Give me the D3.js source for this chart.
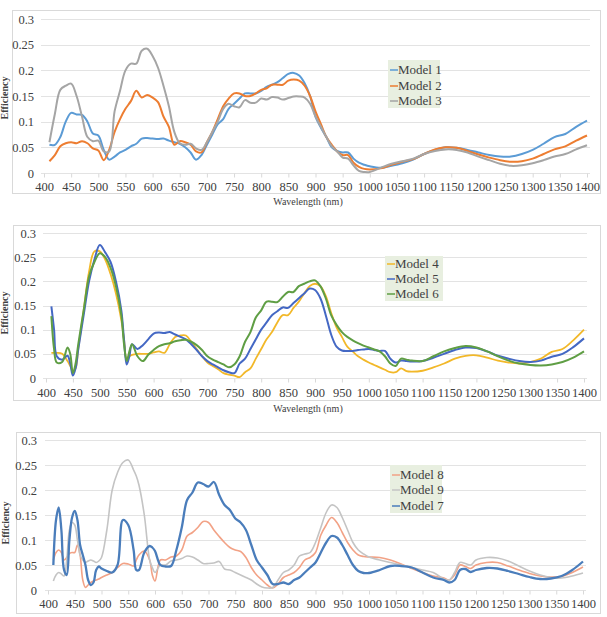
<!DOCTYPE html>
<html><head><meta charset="utf-8">
<script src="https://cdn.jsdelivr.net/npm/d3@7"></script>
<style>
body{margin:0;background:#fff;}
</style></head>
<body><svg id="c" width="607" height="617" font-family="Liberation Serif, DejaVu Serif, serif"></svg>
<script>
// ---------- data ----------
const xTicks = d3.range(400, 1401, 50);
const yTicks = [0, 0.05, 0.1, 0.15, 0.2, 0.25, 0.3];
const yTickLabels = ["0", "0.05", "0.1", "0.15", "0.2", "0.25", "0.3"];

const W1 = d3.range(410, 1001, 10).concat(d3.range(1020, 1401, 20));
const model1 = [
 .055,.055,.07,.1,.117,.114,.113,.1,.077,.073,
 .045,.026,.032,.04,.045,.052,.057,.067,.068,.067,
 .066,.067,.063,.06,.057,.05,.04,.026,.035,.055,
 .075,.095,.105,.125,.135,.145,.155,.155,.155,.16,
 .168,.172,.177,.185,.193,.195,.19,.175,.15,.11,
 .088,.07,.05,.043,.04,.04,.028,.02,.016,.013,
 .01,.014,.019,.026,.037,.045,.05,.049,.045,.04,
 .035,.032,.032,.037,.045,.057,.07,.076,.09,.102];
const model2 = [
 .023,.035,.052,.058,.06,.058,.062,.058,.048,.044,
 .025,.045,.08,.105,.125,.14,.16,.147,.152,.147,
 .138,.11,.09,.055,.062,.06,.055,.042,.04,.06,
 .08,.105,.13,.145,.155,.155,.15,.15,.155,.162,
 .165,.172,.172,.172,.18,.182,.18,.17,.15,.12,
 .095,.07,.055,.042,.035,.035,.02,.012,.008,.007,
 .009,.016,.022,.027,.037,.046,.05,.049,.043,.036,
 .03,.025,.022,.023,.028,.037,.046,.052,.063,.073];
const model3 = [
 .06,.115,.162,.17,.174,.15,.11,.07,.062,.063,
 .042,.042,.12,.16,.2,.213,.213,.238,.242,.228,
 .205,.17,.13,.08,.058,.055,.057,.048,.045,.06,
 .08,.1,.125,.135,.13,.128,.142,.137,.137,.145,
 .143,.148,.147,.143,.146,.149,.149,.147,.135,.11,
 .09,.07,.052,.042,.03,.028,.015,.004,.002,.002,
 .01,.018,.023,.028,.037,.043,.046,.045,.04,.032,
 .025,.018,.014,.015,.019,.025,.032,.037,.046,.054];

const W2 = [410,415,420,430,440,445,450,455,460]
  .concat(d3.range(470, 541, 10), [545,550,555], d3.range(560, 1081, 10), d3.range(1100, 1401, 20));
const model4 = [
 .052,.052,.052,.05,.035,.025,.015,.02,.06,
 .14,.22,.262,.262,.245,.215,.175,.12,
 .08,.04,.045,
 .048,.05,.05,.05,.053,.055,.052,.07,.085,.088,
 .088,.075,.06,.045,.032,.025,.018,.01,.007,.005,
 .002,.012,.02,.04,.06,.08,.095,.115,.13,.13,
 .145,.158,.175,.19,.195,.19,.17,.135,.105,.085,
 .065,.055,.045,.038,.032,.027,.022,.017,.012,.012,
 .02,.014,.013,
 .015,.022,.03,.04,.046,.047,.042,.036,.032,.03,.033,.04,.054,.06,.078,.1];
const model5 = [
 .148,.1,.045,.038,.046,.03,.005,.02,.06,
 .13,.2,.245,.275,.26,.24,.2,.14,
 .08,.028,.045,
 .07,.06,.068,.08,.092,.094,.093,.095,.09,.085,
 .08,.07,.058,.045,.035,.028,.022,.016,.012,.01,
 .03,.04,.06,.08,.1,.115,.13,.138,.146,.145,
 .155,.165,.175,.185,.182,.165,.13,.09,.065,.057,
 .056,.056,.058,.059,.06,.058,.056,.056,.04,.032,
 .036,.035,.034,
 .035,.042,.05,.058,.063,.062,.055,.046,.04,.035,.033,.036,.044,.05,.064,.082];
const model6 = [
 .128,.06,.032,.033,.063,.05,.01,.03,.07,
 .14,.21,.24,.258,.25,.228,.19,.13,
 .07,.035,.055,
 .07,.045,.035,.048,.058,.066,.07,.072,.076,.078,
 .079,.075,.068,.058,.045,.038,.033,.028,.022,.028,
 .045,.075,.095,.125,.14,.158,.158,.157,.168,.178,
 .178,.19,.195,.2,.202,.19,.165,.13,.11,.095,
 .085,.078,.072,.067,.063,.059,.055,.045,.03,.025,
 .04,.038,.036,
 .035,.045,.055,.062,.066,.063,.055,.045,.036,.03,.027,.026,.028,.033,.042,.055];

const W3 = d3.range(410, 501, 5)
  .concat([510,520,530,540,550,560,565,570,580,590,595], d3.range(600, 1001, 10),
          [1020,1040,1060,1080,1100,1120,1140,1150,1160,1170,1180,1190,1200], d3.range(1220, 1401, 20));
const model7 = [
 .05,.14,.165,.12,.04,.03,.1,.145,.158,.14,.09,.07,.05,.02,.01,.015,.04,.047,.043,
 .038,.035,.05,.14,.13,.08,.04,.04,.075,.088,.085,
 .078,.05,.047,.048,.08,.125,.18,.195,.215,.212,
 .207,.216,.19,.17,.16,.143,.135,.12,.09,.06,
 .045,.03,.012,.012,.015,.012,.02,.025,.035,.045,
 .055,.075,.095,.108,.105,.09,.07,.05,.038,.034,.034,
 .04,.048,.048,.045,.035,.025,.02,.015,.02,.04,.042,.036,.04,
 .044,.043,.038,.032,.026,.022,.023,.028,.04,.057];
const model8 = [
 .06,.075,.08,.075,.06,.065,.073,.075,.075,.09,.07,.02,.005,.01,.015,.018,.02,.022,.025,
 .03,.035,.045,.053,.052,.048,.06,.07,.078,.06,.03,
 .018,.06,.06,.066,.068,.08,.108,.115,.125,.137,
 .135,.12,.107,.095,.085,.08,.077,.065,.045,.03,
 .02,.01,.004,.012,.025,.03,.035,.045,.06,.065,
 .075,.11,.13,.145,.135,.115,.095,.08,.07,.067,.066,
 .065,.06,.052,.043,.035,.028,.024,.02,.03,.05,.047,.043,.05,
 .055,.055,.048,.04,.033,.028,.026,.027,.035,.046];
const model9 = [
 .018,.03,.035,.032,.028,.06,.12,.135,.13,.1,.07,.06,.055,.058,.06,.058,.055,.058,.065,
 .12,.2,.235,.255,.26,.24,.228,.21,.15,.06,.045,
 .035,.05,.05,.058,.06,.063,.068,.066,.06,.053,
 .053,.054,.057,.042,.04,.035,.03,.025,.02,.012,
 .006,.004,.005,.02,.035,.04,.05,.068,.072,.075,
 .095,.125,.155,.17,.165,.145,.12,.095,.08,.072,.066,
 .06,.055,.05,.045,.04,.035,.022,.02,.035,.055,.053,.05,.06,
 .065,.064,.058,.048,.038,.03,.025,.024,.028,.034];

const names1 = ["Model 1", "Model 2", "Model 3"];
const names2 = ["Model 4", "Model 5", "Model 6"];
const names3 = ["Model 8", "Model 9", "Model 7"];

// ---------- layout / style ----------
const FONT = "Liberation Serif, DejaVu Serif, serif";
const charts = [
 {box:[12,10,600,193], x0:44, x1:587, yT:19, yB:173, yLabX:34, xLabBase:190, titleY:205, effX:8, effY:98,
  W:W1, series:[model1, model2, model3], names:names1, colors:["#5b9bd5","#ed7d31","#a5a5a5"], widths:[2,2,2],
  legend:{x:388,y:60,w:52,h:48,rows:[70,86,101]}},
 {box:[13,225,600,400], x0:46, x1:584, yT:233, yB:378, yLabX:36, xLabBase:396, titleY:412, effX:8, effY:313,
  W:W2, series:[model4, model5, model6], names:names2, colors:["#f2b829","#4468c4","#5f9e44"], widths:[1.8,2,2],
  legend:{x:385,y:256,w:58,h:45,rows:[264,279,294]}},
 {box:[16,432,600,613], x0:48, x1:583, yT:440, yB:590, yLabX:37, xLabBase:607, titleY:null, effX:9, effY:523,
  W:W3, series:[model8, model9, model7], names:names3, colors:["#f2a286","#c4c4c4","#4a7dbb"], widths:[1.6,1.6,2.3],
  legend:{x:390,y:465,w:52,h:48,rows:[475,490,506]}}
];

const svg = d3.select("#c");

charts.forEach(c => {
  c.series.forEach((s, i) => { if (s.length !== c.W.length) console.error("length mismatch", c.names[i], s.length, c.W.length); });
  const g = svg.append("g").attr("font-family", FONT);
  g.append("rect").attr("x", c.box[0]+0.5).attr("y", c.box[1]+0.5)
    .attr("width", c.box[2]-c.box[0]).attr("height", c.box[3]-c.box[1])
    .attr("fill", "#fff").attr("stroke", "#d9d9d9");

  const x = d3.scaleLinear().domain([400, 1400]).range([c.x0, c.x1]);
  const y = d3.scaleLinear().domain([0, 0.3]).range([c.yB, c.yT]);

  // gridlines
  g.append("g").selectAll("line").data(yTicks).join("line")
    .attr("x1", c.x0 - 3).attr("x2", c.x1 + 3)
    .attr("y1", d => Math.round(y(d)) + 0.5).attr("y2", d => Math.round(y(d)) + 0.5)
    .attr("stroke", "#e3e3e3").attr("stroke-width", 1);

  // y axis labels
  const ya = g.append("g").attr("transform", `translate(${c.yLabX},0)`)
    .call(d3.axisLeft(y).tickValues(yTicks).tickSize(0).tickPadding(0)
      .tickFormat((d, i) => yTickLabels[i]));
  ya.attr("font-family", FONT).attr("font-size", 12.5);
  ya.select(".domain").remove();
  ya.selectAll("text").attr("fill", "#404040").attr("font-family", FONT);

  // x axis
  const xa = g.append("g").attr("transform", `translate(0,${Math.round(c.yB) + 0.5})`)
    .call(d3.axisBottom(x).tickValues(xTicks).tickSize(4).tickPadding(3).tickFormat(d3.format("d")));
  xa.attr("font-family", FONT).attr("font-size", 12.5);
  xa.select(".domain").remove();
  xa.selectAll("line").attr("stroke", "#d9d9d9");
  xa.selectAll("text").attr("fill", "#404040").attr("font-family", FONT)
    .attr("y", null).attr("dy", null)
    .attr("transform", `translate(0,${c.xLabBase - Math.round(c.yB)})`);

  // lines
  const line = d3.line().x(d => x(d[0])).y(d => y(d[1])).curve(d3.curveCatmullRom.alpha(0.5));
  c.series.forEach((s, i) => {
    g.append("path").datum(c.W.map((w, k) => [w, s[k]]))
      .attr("d", line).attr("fill", "none")
      .attr("stroke", c.colors[i]).attr("stroke-width", c.widths[i])
      .attr("stroke-linejoin", "round");
  });

  // axis titles
  if (c.titleY) {
    g.append("text").attr("x", 308).attr("y", c.titleY).attr("text-anchor", "middle")
      .attr("font-size", 10).attr("fill", "#404040").text("Wavelength  (nm)");
  }
  g.append("text").attr("transform", `translate(${c.effX},${c.effY}) rotate(-90)`)
    .attr("text-anchor", "middle").attr("font-size", 10).attr("font-weight", "bold")
    .attr("fill", "#404040").text("Efficiency");

  // legend
  const L = c.legend;
  g.append("rect").attr("x", L.x).attr("y", L.y).attr("width", L.w).attr("height", L.h)
    .attr("fill", "#e8efe0");
  c.names.forEach((n, i) => {
    g.append("line").attr("x1", L.x + 2).attr("x2", L.x + 10)
      .attr("y1", L.rows[i]).attr("y2", L.rows[i])
      .attr("stroke", c.colors[i]).attr("stroke-width", 1.5);
    g.append("text").attr("x", L.x + 10).attr("y", L.rows[i] + 4)
      .attr("font-size", 13).attr("fill", "#404040").text(n);
  });
});
</script>
</body></html>
